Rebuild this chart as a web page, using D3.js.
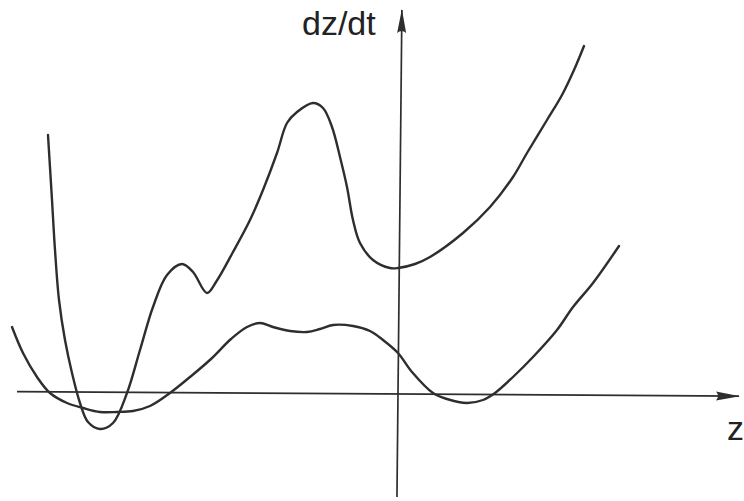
<!DOCTYPE html>
<html>
<head>
<meta charset="utf-8">
<script src="https://cdn.jsdelivr.net/npm/d3@7"></script>
<style>
  html, body { margin: 0; padding: 0; background: #fff; }
  svg { display: block; }
  text { font-family: "Liberation Sans", Arial, Helvetica, sans-serif; fill: #222; }
</style>
</head>
<body>
<script>
// Phase portrait: rate of change dz/dt plotted against state z, two curves.
const curveAz = [-35.0,-34.6,-34.3,-33.9,-33.3,-32.6,-31.8,-31.0,-29.8,-28.5,-27.1,-25.8,-24.5,-23.1,-21.6,-20.5,-19.1,-18.2,-16.5,-14.8,-13.5,-12.1,-11.1,-10.1,-8.5,-7.5,-6.6,-5.8,-5.1,-4.5,-3.8,-2.5,-0.8,0,1.7,3.2,6.5,9.2,11.5,12.9,14.9,16.4,17.6,18.6];
const curveAv = [25.9,19.4,14.4,9.4,5.4,2.1,-0.9,-2.8,-3.5,-2.9,0.1,4.4,8.7,11.9,13.0,12.2,10.1,11.2,14.2,17.4,20.4,24.1,27.1,28.2,29.1,28.6,26.7,23.7,20.7,17.4,15.1,13.4,12.6,12.6,13.0,13.7,16.1,18.7,21.7,24.1,27.4,29.9,32.4,34.8];

const curveBz = [-38.6,-37.5,-36.1,-34.8,-33.1,-31.5,-29.8,-28.1,-26.5,-24.8,-22.8,-20.8,-18.7,-16.7,-15.1,-13.8,-12.5,-10.8,-9.1,-7.8,-6.5,-4.5,-2.8,-1.5,0,1.4,3.5,4.9,6.9,8.5,9.7,11.5,13.5,15.9,17.5,19.5,22.1];
const curveBv = [6.7,4.1,1.7,0.1,-0.9,-1.4,-1.8,-1.8,-1.7,-1.2,0.1,1.7,3.5,5.5,6.7,7.1,6.7,6.3,6.2,6.5,6.9,6.8,6.3,5.4,4.1,2.2,0.1,-0.5,-0.9,-0.6,0.1,1.7,3.7,6.4,8.7,11.1,14.8];

// Axis extents and labels
const zAxisExtent = [-38.1, 34.1];
const vAxisExtent = [-10.3, 38.4];
const zLabel = "z";
const vLabel = "dz/dt";

const W = 744, H = 501;
const svg = d3.select("body").append("svg").attr("width", W).attr("height", H);

const x = d3.scaleLinear().domain([-39.8, 34.6]).range([0, W]);
const y = d3.scaleLinear().domain([-10.7, 39.4]).range([501, 0]);
const ox = x(0), oy = y(0);

const ink = "#2e2e2e";

// Arrowhead marker
const defs = svg.append("defs");
defs.append("marker")
  .attr("id", "arrow")
  .attr("viewBox", "0 0 24 10")
  .attr("refX", 23).attr("refY", 5)
  .attr("markerWidth", 24).attr("markerHeight", 10)
  .attr("markerUnits", "userSpaceOnUse")
  .attr("orient", "auto")
  .append("path")
  .attr("d", "M0,0.5 Q4,5 0,9.5 L24,5 Z")
  .attr("fill", ink);

// Horizontal axis (z)
svg.append("g")
  .attr("transform", `rotate(0.37, ${ox}, ${oy})`)
  .append("line")
  .attr("x1", x(zAxisExtent[0])).attr("y1", oy)
  .attr("x2", x(zAxisExtent[1])).attr("y2", oy)
  .attr("stroke", ink).attr("stroke-width", 1.7)
  .attr("marker-end", "url(#arrow)");

// Vertical axis (dz/dt)
svg.append("g")
  .attr("transform", `rotate(0.58, ${ox}, ${oy})`)
  .append("line")
  .attr("x1", ox).attr("y1", y(vAxisExtent[0]))
  .attr("x2", ox).attr("y2", y(vAxisExtent[1]))
  .attr("stroke", ink).attr("stroke-width", 1.7)
  .attr("marker-end", "url(#arrow)");

// Curves
const line = d3.line()
  .x(d => x(d[0]))
  .y(d => y(d[1]))
  .curve(d3.curveCatmullRom.alpha(0.5));

const seriesA = curveAz.map((z, i) => [z, curveAv[i]]);
const seriesB = curveBz.map((z, i) => [z, curveBv[i]]);

svg.selectAll("path.curve")
  .data([seriesA, seriesB])
  .join("path")
  .attr("class", "curve")
  .attr("d", line)
  .attr("fill", "none")
  .attr("stroke", ink)
  .attr("stroke-width", 2.4)
  .attr("stroke-linejoin", "round")
  .attr("stroke-linecap", "round");

// Axis labels
svg.append("text")
  .attr("x", ox - 96).attr("y", 35)
  .attr("font-size", 34)
  .text(vLabel);

svg.append("text")
  .attr("x", 727).attr("y", 440)
  .attr("font-size", 34)
  .text(zLabel);
</script>
</body>
</html>
